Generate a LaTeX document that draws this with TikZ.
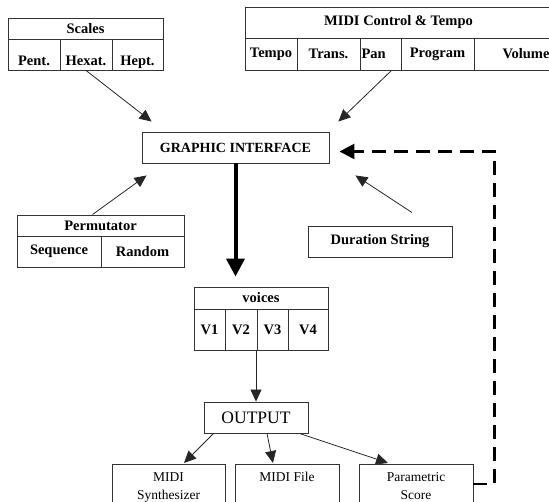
\documentclass[tikz,border=0pt]{standalone}
\usepackage{fontspec}
\setmainfont{Liberation Serif}
\usetikzlibrary{arrows.meta,calc}
\begin{document}
\begin{tikzpicture}[x=1pt, y=-1pt,
    box/.style={draw=black!80, line width=0.9pt, inner sep=0pt, minimum height=31pt},
    lbl/.style={font=\bfseries\fontsize{14.5}{16}\selectfont},
    low/.style={text height=24pt, text depth=2pt},
    outbox/.style={draw=black!80, line width=0.9pt, anchor=north, align=center, inner ysep=8pt, font=\fontsize{13.5}{18}\selectfont},
    arr/.style={-{Triangle[length=12pt,width=11pt]}, line width=0.8pt, black!85},
    bigarr/.style={-{Triangle[length=18pt,width=18pt]}, line width=4pt},
    fb/.style={line width=2.6pt, dash pattern=on 14pt off 8pt}]
    \useasboundingbox (0,0) rectangle (549,502);
    \node[box, lbl, minimum width=155pt, minimum height=21pt] (scales) at (85.5,28.5) {Scales};
    \node[box, lbl, low, minimum width=52pt] (pent) at (34,54.5) {Pent.};
    \node[box, lbl, low, minimum width=52pt] (hexat) at (86,54.5) {Hexat.};
    \node[box, lbl, low, minimum width=51pt] (hept) at (137.5,54.5) {Hept.};
    \node[box, lbl, minimum width=307pt] (midi) at (398.5,22.5) {MIDI Control \& Tempo};
    \node[box, lbl, minimum width=52pt, minimum height=32pt] (tempo) at (271,54) {Tempo};
    \node[box, lbl, minimum width=63pt, minimum height=32pt] (trans) at (328.5,54) {Trans.};
    \node[box, lbl, minimum width=41pt, minimum height=32pt, text width=38pt, align=left] (pan) at (380.5,54) {Pan};
    \node[box, lbl, minimum width=73pt, minimum height=32pt] (program) at (437.5,54) {Program};
    \node[box, lbl, minimum width=78pt, minimum height=32pt, text width=73pt, align=right] (volume) at (513,54) {Volume};
    \node[box, font=\bfseries\fontsize{14}{16}\selectfont, minimum width=187pt] (gi) at (235.5,147.5) {GRAPHIC INTERFACE};
    \node[box, lbl, minimum width=167pt, minimum height=21pt] (permhead) at (100.5,225.5) {Permutator};
    \node[box, lbl, minimum width=84pt] (sequence) at (59,251.5) {Sequence};
    \node[box, lbl, minimum width=83pt] (random) at (142.5,251.5) {Random};
    \node[box, lbl, minimum width=144pt] (dur) at (380,241.5) {Duration String};
    \node[box, lbl, minimum width=134pt, minimum height=22pt] (vhead) at (261,298) {voices};
    \node[box, lbl, minimum width=31pt, minimum height=41pt] (v1) at (209.5,329.5) {V1};
    \node[box, lbl, minimum width=32pt, minimum height=41pt] (v2) at (241,329.5) {V2};
    \node[box, lbl, minimum width=31pt, minimum height=41pt] (v3) at (272.5,329.5) {V3};
    \node[box, lbl, minimum width=40pt, minimum height=41pt] (v4) at (308,329.5) {V4};
    \node[box, font=\fontsize{17.5}{20}\selectfont, minimum width=104pt] (out) at (256,417.5) {OUTPUT};
    \node[outbox, minimum width=113pt] (synth) at (168.5,464) {MIDI\\Synthesizer};
    \node[outbox, minimum width=104pt] (mfile) at (287,464) {MIDI File\\\mbox{}};
    \node[outbox, minimum width=114pt] (score) at (416,464) {Parametric\\Score};
    \draw[arr] (hexat.south) -- ([shift={(10,-10)}]gi.north west);
    \draw[arr] ([xshift=11pt]pan.south) -- ([shift={(9,-10)}]gi.north east);
    \draw[arr] ([xshift=-8pt]permhead.north) -- ([shift={(5,12)}]gi.south west);
    \draw[arr] ([shift={(32,-13)}]dur.north) -- ([shift={(26,12)}]gi.south east);
    \draw[bigarr] (gi.south) -- ($(gi.south |- vhead.north)+(0,-10)$);
    \draw[arr] (out.north |- v2.south) -- (out.north);
    \draw[arr] ([xshift=10pt]out.south west) -- ([shift={(15.5,-1)}]synth.north);
    \draw[arr] ([xshift=11pt]out.south) -- ([shift={(-14,-1)}]mfile.north);
    \draw[arr] ([xshift=-9pt]out.south east) -- ([shift={(-28,-1)}]score.north);
    \draw[fb, -{Triangle[length=15pt,width=15pt]}] ([shift={(0,20)}]score.north east) -- ++(21,0) |- ([shift={(10,4)}]gi.east);
\end{tikzpicture}
\end{document}
